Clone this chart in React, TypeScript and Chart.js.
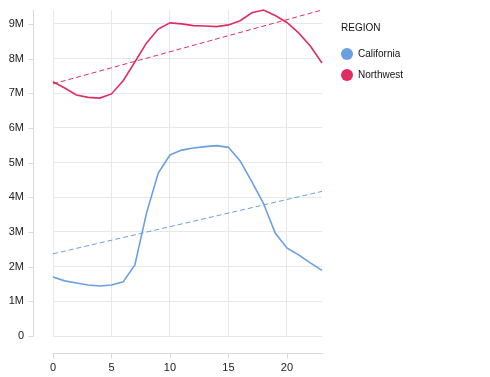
import React, { useEffect, useRef } from "react";
import { Chart, registerables } from "chart.js";

Chart.register(...registerables);

const hours = [0, 1, 2, 3, 4, 5, 6, 7, 8, 9, 10, 11, 12, 13, 14, 15, 16, 17, 18, 19, 20, 21, 22, 23];
// values in millions
const california = [1.70, 1.59, 1.53, 1.47, 1.44, 1.47, 1.56, 2.05, 3.55, 4.70, 5.22, 5.36, 5.42, 5.46, 5.49, 5.44, 5.05, 4.45, 3.82, 2.97, 2.54, 2.34, 2.11, 1.89];
const northwest = [7.33, 7.15, 6.95, 6.88, 6.86, 6.98, 7.36, 7.90, 8.45, 8.85, 9.03, 9.00, 8.95, 8.94, 8.92, 8.97, 9.09, 9.32, 9.40, 9.24, 9.04, 8.74, 8.36, 7.87];
const trendHours = [0, 23];
const californiaTrend = [2.37, 4.17];
const northwestTrend = [7.27, 9.40];
const regions = ["California", "Northwest"];
const colors = ["#6a9fe0", "#df2d63"];
const yMaxM = 9.4;

const FONT = "'Liberation Sans', Arial, Helvetica, sans-serif";

const toPts = (xs: number[], ys: number[]) => xs.map((x, i) => ({ x, y: ys[i] }));

const offsetAxes = {
  id: "offsetAxes",
  afterDraw(chart: any) {
    const { ctx, chartArea, scales } = chart;
    const { left, right, top, bottom } = chartArea;
    ctx.save();
    ctx.strokeStyle = "#d9d9d9";
    ctx.lineWidth = 1;
    const ax = left - 19.5;
    ctx.beginPath();
    ctx.moveTo(ax, top);
    ctx.lineTo(ax, bottom + 0.5);
    scales.y.ticks.forEach((t: any) => {
      const py = Math.round(scales.y.getPixelForValue(t.value)) + 0.5;
      ctx.moveTo(ax - 5, py);
      ctx.lineTo(ax, py);
    });
    const ay = bottom + 17.5;
    ctx.moveTo(left, ay);
    ctx.lineTo(right + 1, ay);
    scales.x.ticks.forEach((t: any) => {
      const px = Math.round(scales.x.getPixelForValue(t.value)) + 0.5;
      ctx.moveTo(px, ay);
      ctx.lineTo(px, ay + 5);
    });
    ctx.stroke();
    ctx.restore();
  },
};

export default function App() {
  const ref = useRef<HTMLCanvasElement>(null);
  useEffect(() => {
    document.body.style.margin = "0";
    const chart = new Chart(ref.current!, {
      type: "line",
      data: {
        datasets: [
          {
            label: regions[0],
            data: toPts(hours, california),
            borderColor: colors[0],
            borderWidth: 1.6,
            pointRadius: 0,
            clip: 4,
          },
          {
            label: regions[1],
            data: toPts(hours, northwest),
            borderColor: colors[1],
            borderWidth: 1.6,
            pointRadius: 0,
            clip: 4,
          },
          {
            label: regions[0] + " trend",
            data: toPts(trendHours, californiaTrend),
            borderColor: colors[0],
            borderWidth: 1,
            borderDash: [5, 3],
            pointRadius: 0,
            clip: 4,
          },
          {
            label: regions[1] + " trend",
            data: toPts(trendHours, northwestTrend),
            borderColor: colors[1],
            borderWidth: 1,
            borderDash: [5, 3],
            pointRadius: 0,
            clip: 4,
          },
        ] as any,
      },
      options: {
        animation: false,
        responsive: false,
        devicePixelRatio: 1,
        layout: { padding: { left: 0, top: 10, right: 168, bottom: 0 } },
        plugins: { legend: { display: false }, tooltip: { enabled: false } },
        scales: {
          x: {
            type: "linear",
            min: 0,
            max: 23,
            afterFit: (s: any) => {
              s.height = 41;
              s.paddingLeft = 0;
              s.paddingRight = 0;
            },
            border: { display: false },
            grid: { color: "#e8e8e8", drawTicks: false },
            ticks: {
              stepSize: 5,
              includeBounds: false,
              padding: 25,
              color: "#222",
              font: { family: FONT, size: 11 },
              maxRotation: 0,
            },
          },
          y: {
            type: "linear",
            min: 0,
            max: yMaxM,
            afterFit: (s: any) => {
              s.width = 53;
              s.paddingTop = 0;
              s.paddingBottom = 0;
            },
            border: { display: false },
            grid: { color: "#e8e8e8", drawTicks: false },
            ticks: {
              stepSize: 1,
              includeBounds: false,
              padding: 29,
              color: "#222",
              font: { family: FONT, size: 11 },
              callback: (v: any) => (v === 0 ? "0" : v + "M"),
            },
          },
        },
      },
      plugins: [offsetAxes],
    });
    return () => chart.destroy();
  }, []);

  return (
    <div style={{ position: "relative", width: 490, height: 377 }}>
      <canvas ref={ref} width={490} height={377} style={{ width: 490, height: 377, display: "block" }} />
      <div
        style={{
          position: "absolute",
          left: 341,
          top: 21,
          fontFamily: FONT,
          fontSize: 10,
          color: "#111",
        }}
      >
        <div style={{ height: 14, lineHeight: "14px", marginBottom: 8 }}>REGION</div>
        {regions.map((r, i) => (
          <div key={r} style={{ display: "flex", alignItems: "center", height: 21 }}>
            <span
              style={{
                width: 12,
                height: 12,
                borderRadius: "50%",
                background: colors[i],
                display: "inline-block",
                marginRight: 5,
              }}
            />
            <span>{r}</span>
          </div>
        ))}
      </div>
    </div>
  );
}
